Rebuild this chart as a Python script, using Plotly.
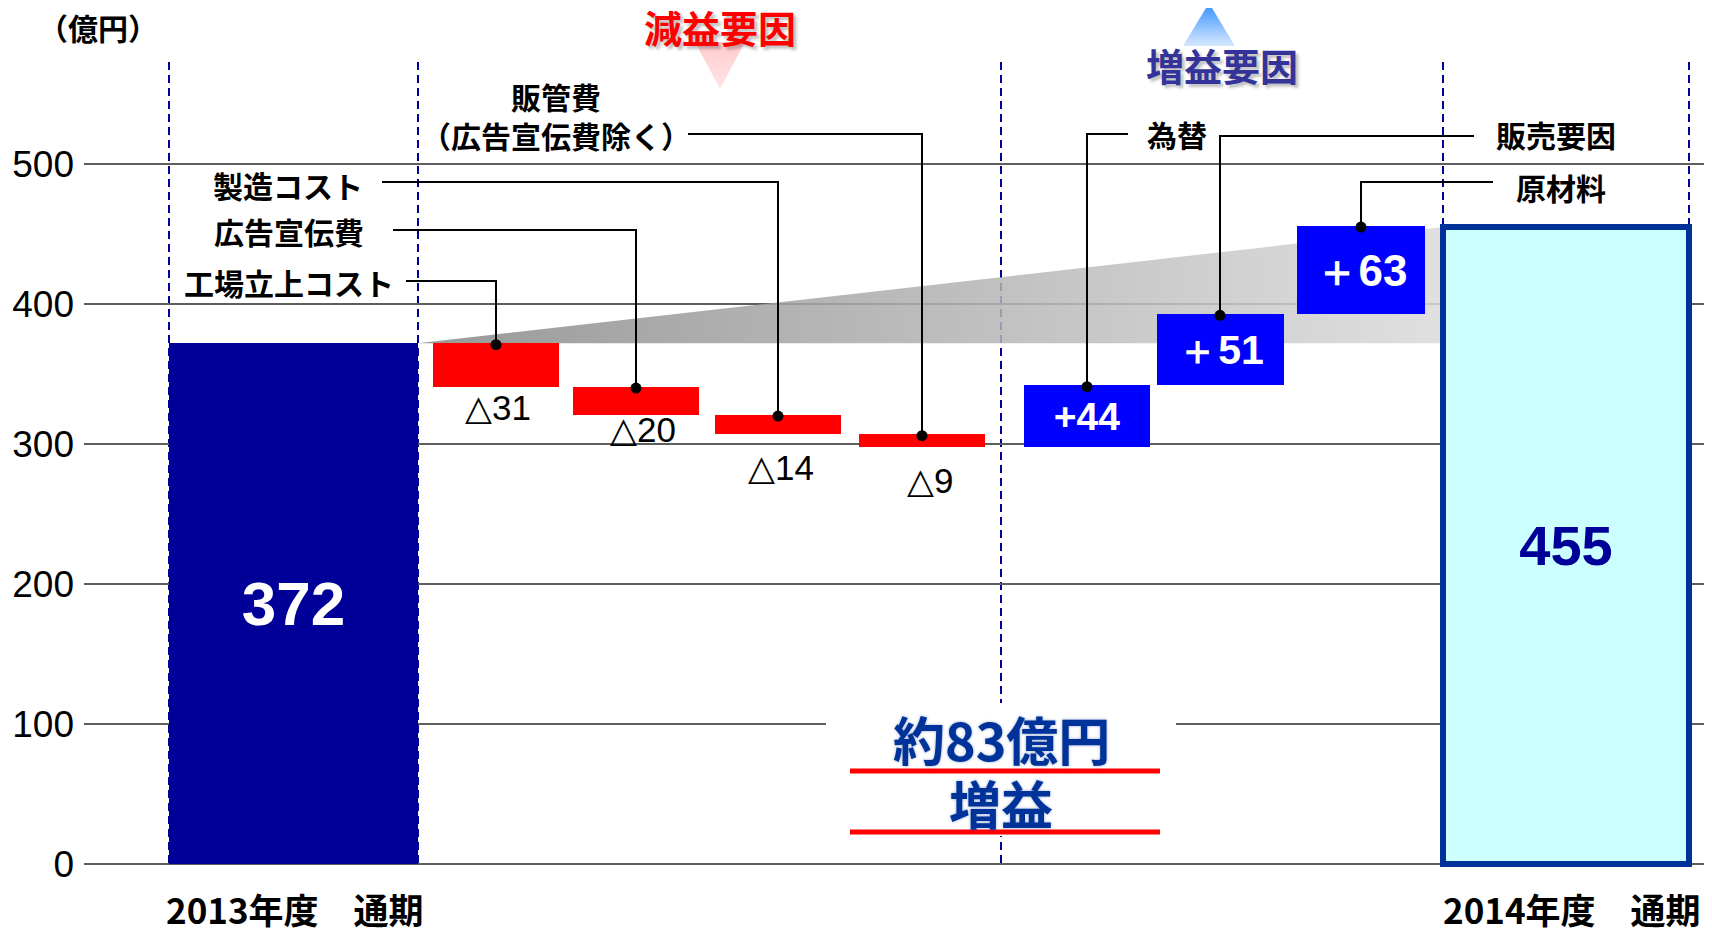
import plotly.graph_objects as go

# ---------------- data ----------------
categories = ["2013年度　通期", "工場立上コスト", "広告宣伝費", "製造コスト",
              "販管費<br>（広告宣伝費除く）", "為替", "販売要因", "原材料", "2014年度　通期"]
kinds = ["total", "down", "down", "down", "down", "up", "up", "up", "total"]
values = [372, -31, -20, -14, -9, 44, 51, 63, 455]
bar_labels = ["372", "△31", "△20", "△14", "△9", "+44", "＋51", "＋63", "455"]
y_ticks = [0, 100, 200, 300, 400, 500]
unit_label = "（億円）"
down_title = "減益要因"
up_title = "増益要因"
summary_lines = ["約83億円", "増益"]

# ---------------- layout helpers (pixel geometry, page pixels) ----------------
PAGE_OFF = 8                 # default body margin of the html page
W, H = 1712 - PAGE_OFF, 929 - PAGE_OFF
PLOT_LEFT = 84               # page pixel where plot area starts
Y0_PX = 864.0                # page pixel row of value 0
PX_PER_UNIT = 1.40           # pixels per 億円


def yd(p):
    """page pixel row -> y data value"""
    return (Y0_PX - p) / PX_PER_UNIT


def xpap(p):
    return (p - PLOT_LEFT) / (1712 - PLOT_LEFT)


def ypap(p):
    return 1 - (p - PAGE_OFF) / H


x_center = [293.5, 496, 636, 778, 922, 1087, 1220, 1361, 1566]
x_width = [249, 126, 126, 126, 126, 126, 127, 128, 246]
colors = ["#000099", "#FF0000", "#FF0000", "#FF0000", "#FF0000",
          "#0000FF", "#0000FF", "#0000FF", "#CCFFFF"]
line_w = [0, 0, 0, 0, 0, 0, 0, 0, 6]
text_col = ["white"] * 8 + ["#000099"]
text_size = [62, 1, 1, 1, 1, 39, 41, 44, 56]
NUM_FONT = "Liberation Sans, Arial, sans-serif"

# running totals -> base / top of each bar
bases, tops = [], []
running = 0
for k, v in zip(kinds, values):
    if k == "total":
        bases.append(0)
        tops.append(v)
        running = v
    elif k == "down":
        bases.append(running + v)
        tops.append(running)
        running += v
    else:
        bases.append(running)
        tops.append(running + v)
        running += v
heights = [t - b for b, t in zip(bases, tops)]

fig = go.Figure()

# gradient wedge (main axes, beneath the bars that live on the overlay axes)
fig.add_trace(go.Scatter(
    x=[x_center[0] + x_width[0] / 2, x_center[-1] - x_width[-1] / 2,
       x_center[-1] - x_width[-1] / 2, x_center[0] + x_width[0] / 2],
    y=[values[0], values[-1], values[0], values[0]],
    mode="lines", line=dict(width=0), fill="toself",
    fillgradient=dict(type="horizontal",
                      colorscale=[[0, "rgba(135,135,135,0.85)"], [1, "rgba(218,218,218,0.85)"]]),
    hoverinfo="skip"))

# bars
fig.add_trace(go.Bar(
    x=x_center, y=heights, base=bases, width=x_width, xaxis="x2", yaxis="y2",
    marker=dict(color=colors, line=dict(color="#003399", width=line_w)),
    text=[("<b>%s</b>" % t) if k != "down" else "" for t, k in zip(bar_labels, kinds)],
    textposition="inside", insidetextanchor="middle", textangle=0,
    constraintext="none",
    textfont=dict(family=NUM_FONT, color=text_col, size=text_size),
    hoverinfo="skip", cliponaxis=False))

# leader lines for the factor bars
leader_row = [None, 281, 230, 182, 134, 134, 136, 182]
leader_start = [None, 406, 393, 382, 688, 1128, 1474, 1493]
label_pos = [None, (289, 282), (289, 231), (288, 185), (556, 115.5),
             (1177, 134), (1556, 134), (1561, 187)]
dot_x, dot_y = [], []
for i in range(1, 8):
    top = tops[i] - 1.5 / PX_PER_UNIT
    fig.add_trace(go.Scatter(
        x=[leader_start[i], x_center[i], x_center[i]],
        y=[yd(leader_row[i]), yd(leader_row[i]), top], xaxis="x2", yaxis="y2",
        mode="lines", line=dict(color="black", width=2), hoverinfo="skip"))
    dot_x.append(x_center[i])
    dot_y.append(top)
fig.add_trace(go.Scatter(x=dot_x, y=dot_y, mode="markers", xaxis="x2", yaxis="y2",
                         marker=dict(color="black", size=11), hoverinfo="skip"))

# white mask behind the summary text
mx0, mx1, my0, my1 = 826, 1176, 703, 836
fig.add_trace(go.Scatter(x=[mx0, mx1, mx1, mx0, mx0],
                         y=[yd(my0), yd(my0), yd(my1), yd(my1), yd(my0)],
                         xaxis="x2", yaxis="y2",
                         mode="lines", line=dict(width=0), fill="toself",
                         fillcolor="white", hoverinfo="skip"))

# decorative triangles
fig.add_trace(go.Scatter(x=[695, 745, 720, 695], y=[yd(42), yd(42), yd(89), yd(42)],
                         xaxis="x2", yaxis="y2",
                         mode="lines", line=dict(width=0), fill="toself",
                         fillgradient=dict(type="vertical",
                                           colorscale=[[0, "#FFE4E4"], [1, "#FFCCCC"]]),
                         hoverinfo="skip"))
fig.add_trace(go.Scatter(x=[1183, 1235, 1209, 1183], y=[yd(46), yd(46), yd(3), yd(46)],
                         xaxis="x2", yaxis="y2",
                         mode="lines", line=dict(width=0), fill="toself",
                         fillgradient=dict(type="vertical",
                                           colorscale=[[0, "#D6E8FF"], [1, "#3390FF"]]),
                         hoverinfo="skip"))

shapes = []
# dashed separators
for xp in [169, 418, 1001, 1443, 1689]:
    shapes.append(dict(type="line", xref="x", yref="y", x0=xp, x1=xp,
                       y0=yd(62), y1=0, layer="below",
                       line=dict(color="#000099", width=2, dash="8px,5px")))
# red underlines
for yp in [771, 832]:
    shapes.append(dict(type="line", xref="x", yref="y", x0=850, x1=1160,
                       y0=yd(yp), y1=yd(yp), layer="above",
                       line=dict(color="#FF0000", width=5)))

JP = "Noto Sans CJK JP, sans-serif"
ann = []
# factor labels
for i in range(1, 8):
    px_, py_ = label_pos[i]
    ann.append(dict(x=xpap(px_), y=ypap(py_), xref="paper", yref="paper",
                    text="<b>%s</b>" % categories[i], showarrow=False,
                    xanchor="center", yanchor="middle",
                    font=dict(family=JP, size=30, color="black")))
# red bar values below the bars
red_lab = {1: (498, 407), 2: (643, 429), 3: (781, 467), 4: (930, 480)}
for i, (px_, py_) in red_lab.items():
    ann.append(dict(x=xpap(px_), y=ypap(py_), xref="paper", yref="paper",
                    text=bar_labels[i], showarrow=False,
                    xanchor="center", yanchor="middle",
                    font=dict(family="Liberation Sans, DejaVu Sans, sans-serif",
                              size=35, color="black")))
# category axis labels
for i, px_ in [(0, 295), (8, 1572)]:
    ann.append(dict(x=xpap(px_), y=ypap(908), xref="paper", yref="paper",
                    text="<b>%s</b>" % categories[i], showarrow=False,
                    xanchor="center", yanchor="middle",
                    font=dict(family=JP, size=35, color="black")))
# unit
ann.append(dict(x=xpap(98), y=ypap(27), xref="paper", yref="paper",
                text="<b>%s</b>" % unit_label, showarrow=False,
                xanchor="center", yanchor="middle",
                font=dict(family=JP, size=30, color="black")))
# titles
ann.append(dict(x=xpap(720), y=ypap(26), xref="paper", yref="paper",
                text="<b>%s</b>" % down_title, showarrow=False,
                xanchor="center", yanchor="middle",
                font=dict(family=JP, size=38, color="#FF0000",
                          shadow="3px 3px 3px rgba(0,0,0,0.25)")))
ann.append(dict(x=xpap(1222), y=ypap(64), xref="paper", yref="paper",
                text="<b>%s</b>" % up_title, showarrow=False,
                xanchor="center", yanchor="middle",
                font=dict(family=JP, size=38, color="#333399",
                          shadow="3px 3px 3px rgba(0,0,0,0.25)")))
# summary
for txt, yp in zip(summary_lines, [738, 802]):
    ann.append(dict(x=xpap(1001), y=ypap(yp), xref="paper", yref="paper",
                    text="<b>%s</b>" % txt, showarrow=False,
                    xanchor="center", yanchor="middle",
                    font=dict(family=JP, size=52, color="#003399",
                              shadow="0px 0px 3px rgba(0,51,153,0.45)")))

yrange = [yd(929), yd(PAGE_OFF)]
xrange_ = [PLOT_LEFT, 1712]
fig.update_layout(
    width=W, height=H, autosize=False,
    margin=dict(l=PLOT_LEFT - PAGE_OFF, r=0, t=0, b=0, pad=0),
    paper_bgcolor="white", plot_bgcolor="white",
    showlegend=False, bargap=0,
    shapes=shapes, annotations=ann,
    xaxis=dict(range=xrange_, showgrid=False, zeroline=False,
               showticklabels=False, fixedrange=True),
    yaxis=dict(range=yrange, tickvals=y_ticks,
               ticktext=[str(t) for t in y_ticks],
               showgrid=True, gridcolor="#5e5e5e", gridwidth=1.5,
               zeroline=False, ticks="", ticklabelstandoff=9,
               tickfont=dict(family="Liberation Sans, Arial, sans-serif", size=37, color="black"),
               fixedrange=True),
    xaxis2=dict(range=xrange_, overlaying="x", showgrid=False, zeroline=False,
                showticklabels=False, fixedrange=True),
    yaxis2=dict(range=yrange, overlaying="y", showgrid=False, zeroline=False,
                showticklabels=False, fixedrange=True),
)

fig.write_html("out.html")
